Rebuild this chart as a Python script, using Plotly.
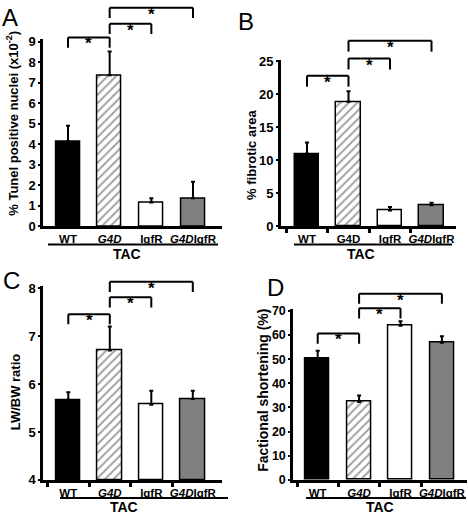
import plotly.graph_objects as go

# ---------------- data ----------------
categories = ["WT", "G4D", "IgfR", "G4DIgfR"]
labels_italic = ["WT", "<i>G4D</i>", "IgfR", "<i>G4D</i>IgfR"]
labels_plain = ["WT", "G4D", "IgfR", "<i>G4D</i>IgfR"]
group_label = "TAC"

tunel_mean = [4.15, 7.37, 1.17, 1.37]
tunel_err = [0.75, 1.15, 0.20, 0.80]

fibrotic_mean = [11.0, 18.9, 2.4, 3.2]
fibrotic_err = [1.7, 1.6, 0.55, 0.4]

lwbw_mean = [5.67, 6.70, 5.57, 5.69]
lwbw_err = [0.16, 0.50, 0.29, 0.17]

fs_mean = [50.5, 32.3, 63.8, 56.8]
fs_err = [3.0, 2.7, 1.9, 2.7]

comparisons = [(0, 1), (1, 2), (1, 3)]

# ---------------- styling / layout ----------------
W, H = 468, 520
FONT = "Liberation Sans, Arial, sans-serif"
bar_colors = ["black", "white", "white", "#808080"]
bar_patterns = ["", "/", "", ""]

panels = [
    dict(letter="A", letter_xy=(10, 12), mean=tunel_mean, err=tunel_err, labels=labels_italic,
         title="% Tunel positive nuclei (x10<sup>-2</sup>)", title_xy=(12, 121), title_size=13,
         xl=43.3, xr=222, c0=68, step=41.67, ybp=226.5, ybv=0, yrp=36.7, yrv=9, ymax=9.15,
         dtick=1, brackets=[9.21, 9.87, 10.66], drop=0.5, tac=(48, 218), tac_x=127, minor=False,
         ytick_size=13),
    dict(letter="B", letter_xy=(245.5, 16), mean=fibrotic_mean, err=fibrotic_err, labels=labels_plain,
         title="% fibrotic area", title_xy=(252, 153), title_size=13,
         xl=281, xr=456, c0=307, step=41.5, ybp=226.5, ybv=0, yrp=57, yrv=25, ymax=25.2,
         dtick=5, brackets=[22.83, 25.44, 28.14], drop=1.65, tac=(294, 452), tac_x=361, minor=True,
         ytick_size=13),
    dict(letter="C", letter_xy=(11, 282), mean=lwbw_mean, err=lwbw_err, labels=labels_italic,
         title="LW/BW ratio", title_xy=(15, 397), title_size=13,
         xl=43.3, xr=222, c0=68.3, step=41.5, ybp=487, ybv=4, yrp=290, yrv=8, ymax=8.04,
         dtick=1, brackets=[7.458, 7.811, 8.136], drop=0.213, tac=(60, 228), tac_x=124, minor=True,
         ytick_size=13),
    dict(letter="D", letter_xy=(275.5, 289), mean=fs_mean, err=fs_err, labels=labels_italic,
         title="Factional shortening (%)", title_xy=(263.5, 395), title_size=14,
         xl=293.3, xr=467, c0=317.7, step=41.4, ybp=487, ybv=0, yrp=313.3, yrv=70, ymax=70.6,
         dtick=10, brackets=[60.58, 71.06, 77.1], drop=4.2, tac=(306, 466), tac_x=380, minor=True,
         ytick_size=12.5),
]

fig = go.Figure()
shapes = []
annotations = []

def px2x(p):
    return p / W

def px2y(p):
    return 1 - p / H

for i, p in enumerate(panels):
    n = i + 1
    xname = "x" if n == 1 else f"x{n}"
    yname = "y" if n == 1 else f"y{n}"
    xa = "xaxis" if n == 1 else f"xaxis{n}"
    ya = "yaxis" if n == 1 else f"yaxis{n}"
    scale = (p["ybp"] - p["yrp"]) / (p["yrv"] - p["ybv"])  # px per unit
    ytop_px = p["ybp"] - (p["ymax"] - p["ybv"]) * scale
    x0r = -(p["c0"] - p["xl"]) / p["step"]
    x1r = 3 + (p["xr"] - (p["c0"] + 3 * p["step"])) / p["step"]

    fig.add_trace(go.Bar(
        x=list(range(len(categories))), y=[m - p["ybv"] for m in p["mean"]], base=p["ybv"],
        width=0.58, xaxis=xname, yaxis=yname,
        marker=dict(color=bar_colors, line=dict(color="black", width=1.5),
                    pattern=dict(shape=bar_patterns, fgcolor="black", size=6, solidity=0.33)),
        error_y=dict(type="data", array=p["err"], arrayminus=[0] * 4, symmetric=False,
                     color="black", thickness=2, width=2),
        showlegend=False, hoverinfo="skip",
    ))

    xaxis = dict(domain=[px2x(p["xl"]), px2x(p["xr"])], range=[x0r, x1r],
                 anchor=yname, showgrid=False, zeroline=False,
                 showline=True, linecolor="black", linewidth=3,
                 tickmode="array", tickvals=list(range(4)), ticktext=p["labels"],
                 ticks="", ticklabelstandoff=0,
                 tickfont=dict(family=FONT, size=11.5, color="black", weight="bold"))
    if p["minor"]:
        xaxis["minor"] = dict(tickmode="array", tickvals=[-0.5, 0.5, 1.5, 2.5], ticks="outside",
                              ticklen=4, tickwidth=3, tickcolor="black", showgrid=False)
    fig.update_layout({xa: xaxis})
    fig.update_layout({ya: dict(domain=[px2y(p["ybp"]), px2y(ytop_px)],
                                range=[p["ybv"], p["ymax"]], anchor=xname,
                                showgrid=False, zeroline=False,
                                showline=True, linecolor="black", linewidth=3,
                                ticks="outside", ticklen=2, tickwidth=2, tickcolor="black",
                                dtick=p["dtick"], tick0=p["ybv"],
                                tickfont=dict(family=FONT, size=p["ytick_size"], color="black",
                                              weight="bold"))})

    def val2py(v, p=p, scale=scale):
        return px2y(p["ybp"] - (v - p["ybv"]) * scale)

    # significance brackets
    for (a, b), top in zip(comparisons, p["brackets"]):
        bot = top - p["drop"]
        for xs, ys in [((a, a), (bot, top)), ((a, b), (top, top)), ((b, b), (top, bot))]:
            shapes.append(dict(type="line", xref=xname, yref="paper",
                               x0=xs[0], x1=xs[1], y0=val2py(ys[0]), y1=val2py(ys[1]),
                               line=dict(color="black", width=2)))
        annotations.append(dict(x=(a + b) / 2, xref=xname, y=val2py(top - p["drop"] * 0.62), yref="paper",
                                text="*", showarrow=False, xanchor="center", yanchor="middle",
                                font=dict(family=FONT, size=17, color="black", weight="bold")))

    # TAC group line and label
    tac_y = p["ybp"] + 18.5
    shapes.append(dict(type="line", xref="paper", yref="paper",
                       x0=px2x(p["tac"][0]), x1=px2x(p["tac"][1]), y0=px2y(tac_y), y1=px2y(tac_y),
                       line=dict(color="black", width=2)))
    annotations.append(dict(x=px2x(p["tac_x"]), y=px2y(tac_y + 9.5),
                            xref="paper", yref="paper", text=group_label, showarrow=False,
                            xanchor="center", yanchor="middle",
                            font=dict(family=FONT, size=14, color="black", weight="bold")))
    # axis title
    annotations.append(dict(x=px2x(p["title_xy"][0]), y=px2y(p["title_xy"][1]), xref="paper", yref="paper",
                            text=p["title"], textangle=-90, showarrow=False,
                            xanchor="center", yanchor="middle",
                            font=dict(family=FONT, size=p["title_size"], color="black", weight="bold")))
    # panel letter
    annotations.append(dict(x=px2x(p["letter_xy"][0]), y=px2y(p["letter_xy"][1]), xref="paper", yref="paper",
                            text=p["letter"], showarrow=False, xanchor="center", yanchor="middle",
                            font=dict(family=FONT, size=24, color="black")))

fig.update_layout(width=W, height=H, margin=dict(l=0, r=0, t=0, b=0),
                  paper_bgcolor="white", plot_bgcolor="white",
                  shapes=shapes, annotations=annotations, bargap=0)

fig.write_html("out.html", config={"displayModeBar": False},
               post_script="document.body.style.margin='0';")
